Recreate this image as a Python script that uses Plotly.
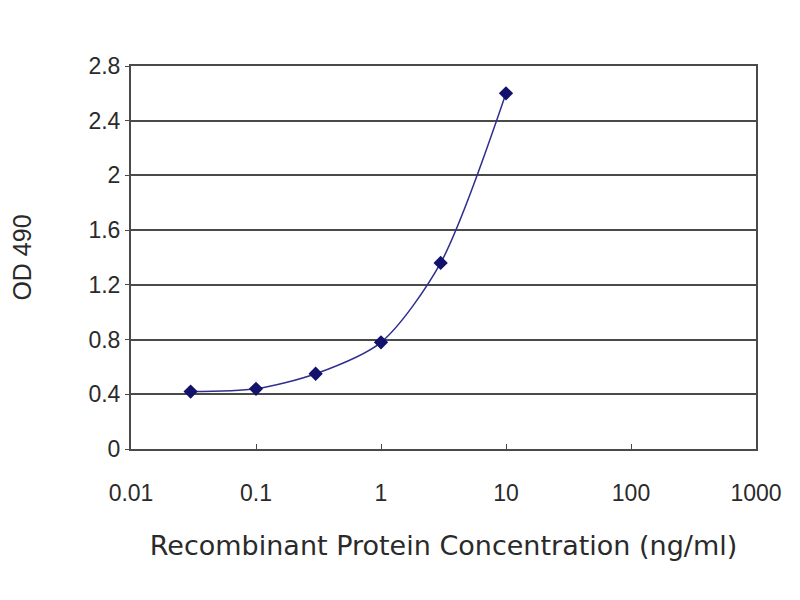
import plotly.graph_objects as go

# ELISA standard curve
conc = [0.03, 0.1, 0.3, 1, 3, 10]
od490 = [0.42, 0.44, 0.55, 0.78, 1.36, 2.60]

y_ticks = [0, 0.4, 0.8, 1.2, 1.6, 2, 2.4, 2.8]
x_ticks = [0.01, 0.1, 1, 10, 100, 1000]

txt = "#2a2a2a"
axis_col = "#4a4a4a"

fig = go.Figure()
fig.add_trace(go.Scatter(
    x=conc, y=od490, mode="lines+markers",
    line=dict(color="#2e2e90", width=1.5, shape="spline", smoothing=0.8),
    marker=dict(symbol="diamond", size=11, color="#12126c"),
    showlegend=False,
))

fig.update_xaxes(
    type="log", range=[-2, 3],
    tickvals=x_ticks, ticktext=[str(t) for t in x_ticks],
    showgrid=False, showline=True, linecolor=axis_col, linewidth=2, mirror=True,
    ticks="inside", ticklen=5, tickcolor=axis_col,
    ticklabelstandoff=22,
    tickfont=dict(size=23, color=txt, family="Liberation Sans, Arial, sans-serif"),
    title=dict(text="Recombinant Protein Concentration (ng/ml)",
               font=dict(size=27, color=txt, family="DejaVu Sans, sans-serif"),
               standoff=32),
    zeroline=False, automargin=False,
)
fig.update_yaxes(
    range=[0, 2.8], tickvals=y_ticks, ticktext=[str(t) for t in y_ticks],
    showgrid=True, gridcolor=axis_col, gridwidth=2,
    showline=True, linecolor=axis_col, linewidth=2, mirror=True,
    ticks="outside", ticklen=4, tickcolor=axis_col,
    tickfont=dict(size=23, color=txt, family="Liberation Sans, Arial, sans-serif"),
    title=dict(text="OD 490", font=dict(size=25, color=txt), standoff=67),
    zeroline=False, automargin=False,
)

# page body adds ~8px offset, so margins are set relative to that
fig.update_layout(
    width=800, height=600,
    margin=dict(l=123, r=52, t=58, b=159),
    paper_bgcolor="white", plot_bgcolor="white",
    font=dict(family="Liberation Sans, Arial, sans-serif"),
)

fig.write_html("out.html")
